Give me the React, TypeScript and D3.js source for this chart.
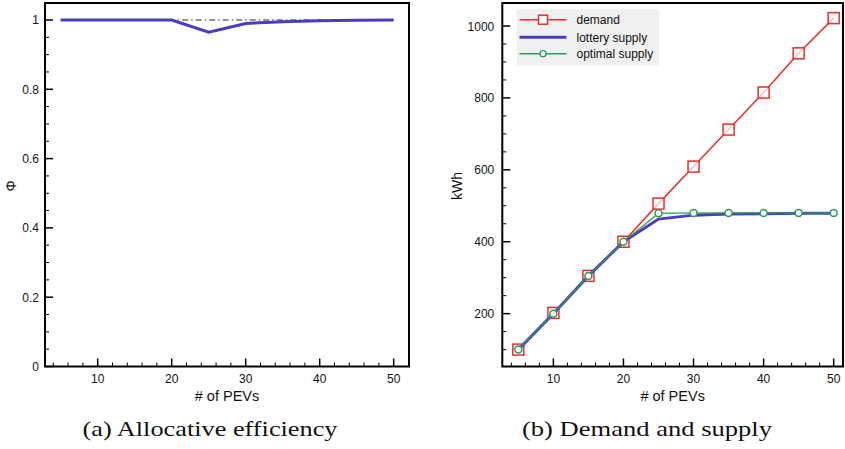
import React from "react";
import * as d3 from "d3";

const pevs = [5, 10, 15, 20, 25, 30, 35, 40, 45, 50];
const phiLottery = [1, 1, 1, 1, 0.965, 0.99, 0.995, 0.998, 0.999, 1];
const phiOptimal = [1, 1, 1, 1, 1, 1, 1, 1, 1, 1];
const demand = [100, 202, 305, 400, 506, 609, 712, 815, 924, 1022];
const lotterySupply = [100, 200, 305, 400, 463, 474, 477, 478, 479, 479];
const optimalSupply = [100, 200, 305, 400, 479, 480, 480, 480, 480, 480];
const phiTicks = [0, 0.2, 0.4, 0.6, 0.8, 1];
const kwhTicks = [200, 400, 600, 800, 1000];
const xTicks = [10, 20, 30, 40, 50];
const legendLabels = ["demand", "lottery supply", "optimal supply"];

const RED = "#e2312b";
const BLUE = "#4b3cc2";
const GREEN = "#2e9a5c";
const SANS = "'Liberation Sans', Arial, Helvetica, sans-serif";
const SERIF = "'Liberation Serif', 'DejaVu Serif', serif";

type AxisProps = {
  x: d3.ScaleLinear<number, number>;
  y: d3.ScaleLinear<number, number>;
  yMajor: number[];
  yMinor: number[];
  xMinor: number[];
  yFmt: (v: number) => string;
  labelGap: number;
};

function Frame({ x, y, yMajor, yMinor, xMinor, yFmt, labelGap }: AxisProps) {
  const [x0, x1] = x.range();
  const [y0, y1] = y.range();
  return (
    <g>
      <rect x={x0} y={y1} width={x1 - x0} height={y0 - y1} fill="none" stroke="#000" strokeWidth={2} />
      {yMinor.map((v, i) => (
        <line key={"ym" + i} x1={x0} x2={x0 + 4} y1={y(v)} y2={y(v)} stroke="#000" strokeWidth={1} />
      ))}
      {yMajor.map((v, i) => (
        <g key={"yM" + i}>
          <line x1={x0} x2={x0 + 8} y1={y(v)} y2={y(v)} stroke="#000" strokeWidth={1.5} />
          <text x={x0 - labelGap} y={y(v) + 4.5} textAnchor="end" fontFamily={SANS} fontSize={12} fill="#111">
            {yFmt(v)}
          </text>
        </g>
      ))}
      {xMinor.map((v, i) => (
        <line key={"xm" + i} x1={x(v)} x2={x(v)} y1={y0} y2={y0 - 4} stroke="#000" strokeWidth={1} />
      ))}
      {xTicks.map((v, i) => (
        <g key={"xM" + i}>
          <line x1={x(v)} x2={x(v)} y1={y0} y2={y0 - 8} stroke="#000" strokeWidth={1.5} />
          <text x={x(v)} y={y0 + 16.5} textAnchor="middle" fontFamily={SANS} fontSize={12} fill="#111">
            {v}
          </text>
        </g>
      ))}
      <text x={(x0 + x1) / 2} y={y0 + 34.5} textAnchor="middle" fontFamily={SANS} fontSize={14.5} fill="#111">
        # of PEVs
      </text>
    </g>
  );
}

export default function App() {
  // Left panel
  const xa = d3.scaleLinear().domain([2.88, 52.07]).range([45, 409]);
  const ya = d3.scaleLinear().domain([0, 1.049]).range([366.5, 3]);
  // Right panel
  const xb = d3.scaleLinear().domain([2.71, 51.33]).range([502.3, 843]);
  const yb = d3.scaleLinear().domain([53, 1064]).range([366.5, 3]);

  const xMinor = d3.range(4, 52, 2).filter((v) => v % 10 !== 0);
  const phiMinor = d3.range(0.05, 1.04, 0.05).filter((v) => Math.abs(v * 5 - Math.round(v * 5)) > 1e-6);
  const kwhMinor = d3.range(100, 1050, 50).filter((v) => v % 200 !== 0);

  const lineA = (vals: number[]) =>
    d3.line<number>().x((_, i) => xa(pevs[i])).y((d) => ya(d))(vals) || "";
  const lineB = (vals: number[]) =>
    d3.line<number>().x((_, i) => xb(pevs[i])).y((d) => yb(d))(vals) || "";

  const legendX = 516.7;
  const legendY = 9;
  const legendRows = [19.7, 37.3, 53.7];
  const legendColors = [RED, BLUE, GREEN];

  return (
    <svg width={845} height={449} style={{ position: "absolute", left: 0, top: 0, background: "#fff" }}>
      <rect width={845} height={449} fill="#fff" />
      {/* Panel (a) */}
      <path d={lineA(phiOptimal)} fill="none" stroke="#222" strokeWidth={1} strokeDasharray="6,3,1.5,3" />
      <path d={lineA(phiLottery)} fill="none" stroke={BLUE} strokeWidth={3} />
      <Frame x={xa} y={ya} yMajor={phiTicks} yMinor={phiMinor} xMinor={xMinor} yFmt={(v) => d3.format("~g")(v)} labelGap={6} />
      <text transform={`translate(16,186) rotate(-90)`} textAnchor="middle" fontFamily={SANS} fontSize={14} fill="#111">
        Φ
      </text>
      <text x={210} y={435.5} textAnchor="middle" fontFamily={SERIF} fontSize={22} fill="#111" textLength={255} lengthAdjust="spacingAndGlyphs">
        (a) Allocative efficiency
      </text>

      {/* Panel (b) */}
      <path d={lineB(demand)} fill="none" stroke={RED} strokeWidth={1.5} />
      {demand.map((v, i) => (
        <rect key={"d" + i} x={xb(pevs[i]) - 5.5} y={yb(v) - 5.5} width={11} height={11} fill="#fff" fillOpacity={0.7} stroke={RED} strokeWidth={1.5} />
      ))}
      <path d={lineB(lotterySupply)} fill="none" stroke={BLUE} strokeWidth={3} />
      <path d={lineB(optimalSupply)} fill="none" stroke={GREEN} strokeWidth={1.5} strokeOpacity={0.85} />
      {optimalSupply.map((v, i) => (
        <circle key={"o" + i} cx={xb(pevs[i])} cy={yb(v)} r={3.5} fill="#fff" stroke={GREEN} strokeWidth={1.5} />
      ))}
      <Frame x={xb} y={yb} yMajor={kwhTicks} yMinor={kwhMinor} xMinor={xMinor} yFmt={(v) => String(v)} labelGap={8} />
      <text transform={`translate(462,186) rotate(-90)`} textAnchor="middle" fontFamily={SANS} fontSize={14} fill="#111">
        kWh
      </text>
      <text x={647} y={435.5} textAnchor="middle" fontFamily={SERIF} fontSize={22} fill="#111" textLength={250} lengthAdjust="spacingAndGlyphs">
        (b) Demand and supply
      </text>

      {/* Legend */}
      <rect x={legendX} y={legendY} width={142.5} height={56} fill="#f0f0f0" />
      {legendLabels.map((lab, i) => (
        <g key={lab}>
          <line x1={519.5} x2={566.5} y1={legendRows[i]} y2={legendRows[i]} stroke={legendColors[i]} strokeWidth={i === 1 ? 3 : 1.5} />
          {i === 0 && <rect x={538.5} y={legendRows[i] - 4.5} width={9} height={9} fill="#fff" stroke={RED} strokeWidth={1.5} />}
          {i === 2 && <circle cx={543} cy={legendRows[i]} r={3} fill="#fff" stroke={GREEN} strokeWidth={1.3} />}
          <text x={576.5} y={legendRows[i] + 4.5} fontFamily={SANS} fontSize={12} fill="#111">
            {lab}
          </text>
        </g>
      ))}
    </svg>
  );
}
